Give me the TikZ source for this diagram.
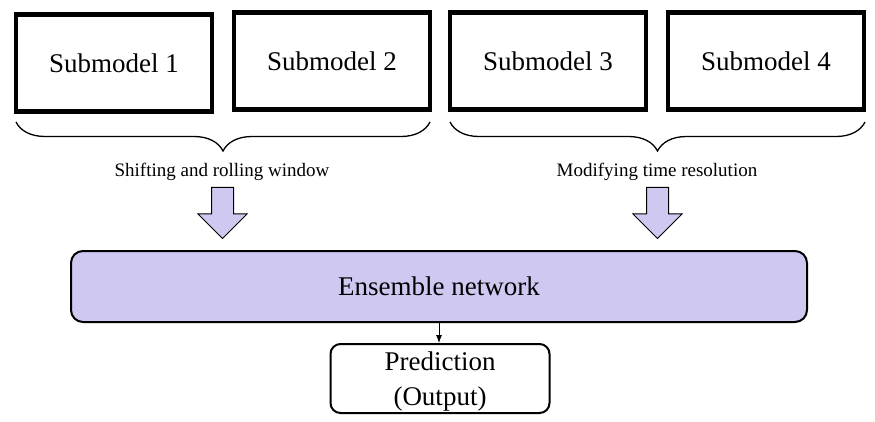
\documentclass[tikz,border=0pt]{standalone}
\usepackage{fontspec}
\setmainfont{Liberation Serif}
\usetikzlibrary{shapes.arrows,decorations.pathreplacing,arrows.meta}
\definecolor{ensfill}{RGB}{207,200,240}

\begin{document}
\begin{tikzpicture}[x=1pt, y=-1pt,
    submodel/.style={rectangle, draw=black, line width=4.5pt, minimum width=196pt, minimum height=97pt, inner sep=0pt, font=\fontsize{27}{32}\selectfont},
    ensemble/.style={rectangle, draw=black, fill=ensfill, line width=2pt, rounded corners=12pt, minimum width=736pt, minimum height=71pt, font=\fontsize{27}{32}\selectfont},
    output/.style={rectangle, draw=black, line width=2pt, rounded corners=10pt, minimum width=219pt, minimum height=69pt, align=center, inner sep=0pt, text depth=0pt, font=\fontsize{27}{35}\selectfont},
    blockarrow/.style={single arrow, draw=black, fill=ensfill, line width=1pt, shape border rotate=270, minimum height=51pt, minimum width=48pt, single arrow head extend=13.5pt, inner xsep=10.5pt, inner ysep=0pt},
    note/.style={font=\fontsize{19}{22}\selectfont},
    group/.style={decorate, decoration={brace, mirror, amplitude=29pt, aspect=0.5}, line width=1.3pt}
]
\useasboundingbox (0,0) rectangle (875,422);

% Submodels
\node[submodel] (sub1) at (114,63) {Submodel 1};
\node[submodel] (sub2) at (332,61) {Submodel 2};
\node[submodel] (sub3) at (548,61) {Submodel 3};
\node[submodel] (sub4) at (766,61) {Submodel 4};

% Braces under the submodel pairs
\coordinate (g1a) at (16,122);
\coordinate (g1b) at (430,122);
\coordinate (g2a) at (450,122);
\coordinate (g2b) at (865,122);
\draw[group] (g1a) -- (g1b);
\draw[group] (g2a) -- (g2b);

% Group labels
\node[note] (shift) at (222,172) {Shifting and rolling window};
\node[note] (resol) at (657,172) {Modifying time resolution};

% Block arrows
\node[blockarrow] (arr1) at (222.5,207.5) {};
\node[blockarrow] (arr2) at (657.5,207.5) {};

% Ensemble and output
\node[ensemble] (ens) at (439,286.5) {Ensemble network};
\node[output] (pred) at (440,378.5) {Prediction\\(Output)};

\draw[-{Latex[length=8pt,width=6pt]}, line width=0.8pt] (ens.south) -- (ens.south |- pred.north);

\end{tikzpicture}
\end{document}
